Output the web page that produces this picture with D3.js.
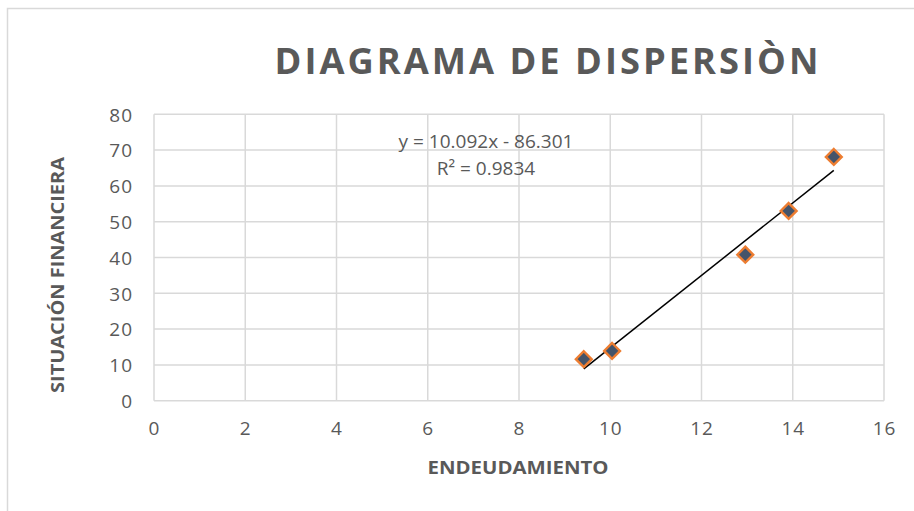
<!DOCTYPE html>
<html>
<head>
<meta charset="utf-8">
<script src="https://cdn.jsdelivr.net/npm/d3@7"></script>
<style>
  html, body { margin: 0; padding: 0; background: #fff; }
  svg { display: block; font-family: "Open Sans", sans-serif; }
</style>
</head>
<body>
<svg id="chart" width="914" height="511"></svg>
<script>
// valores
var endeudamiento = [9.42, 10.04, 12.96, 13.91, 14.9];
var situacion = [11.6, 13.9, 40.8, 53.0, 68.1];
var xTicks = [0, 2, 4, 6, 8, 10, 12, 14, 16];
var yTicks = [0, 10, 20, 30, 40, 50, 60, 70, 80];
var ecuacion = ["y = 10.092x - 86.301", "R² = 0.9834"];

var titulo = "DIAGRAMA DE DISPERSIÒN",
  tituloX = "ENDEUDAMIENTO",
  tituloY = "SITUACIÓN FINANCIERA";

var gris = "#595959",
  rejilla = "#d9d9d9";

var svg = d3.select("#chart");

// borde del area del grafico
svg.append("rect")
  .attr("x", 7.5).attr("y", 8.5)
  .attr("width", 940).attr("height", 540)
  .attr("fill", "#fff")
  .attr("stroke", rejilla).attr("stroke-width", 1.5);

var x = d3.scaleLinear().domain([0, 16]).range([154, 884]);
var y = d3.scaleLinear().domain([0, 80]).range([400.7, 114.3]);

// rejilla
svg.append("g").selectAll("line")
  .data(xTicks).enter().append("line")
  .attr("x1", function(d) { return x(d); })
  .attr("x2", function(d) { return x(d); })
  .attr("y1", y(0)).attr("y2", y(80))
  .attr("stroke", rejilla).attr("stroke-width", 1.5);

svg.append("g").selectAll("line")
  .data(yTicks).enter().append("line")
  .attr("x1", x(0)).attr("x2", x(16))
  .attr("y1", function(d) { return y(d); })
  .attr("y2", function(d) { return y(d); })
  .attr("stroke", rejilla).attr("stroke-width", 1.5);

// ejes con las etiquetas
var ejeX = svg.append("g")
  .attr("transform", "translate(0," + y(0) + ")")
  .call(d3.axisBottom(x).tickValues(xTicks).tickSize(0).tickPadding(21));
var ejeY = svg.append("g")
  .attr("transform", "translate(" + x(0) + ",0)")
  .call(d3.axisLeft(y).tickValues(yTicks).tickSize(0).tickPadding(21));

[ejeX, ejeY].forEach(function(eje) {
  eje.select(".domain").remove();
  eje.selectAll("text")
    .attr("fill", gris)
    .style("font-family", "'Open Sans', sans-serif")
    .style("font-size", "19px")
    .style("letter-spacing", "1px");
});
ejeY.selectAll("text").attr("dy", "0.36em");

// linea de tendencia (minimos cuadrados)
var mx = d3.mean(endeudamiento),
  my = d3.mean(situacion);
var sxy = d3.sum(endeudamiento, function(v, i) { return (v - mx) * (situacion[i] - my); });
var sxx = d3.sum(endeudamiento, function(v) { return (v - mx) * (v - mx); });
var pendiente = sxy / sxx,
  corte = my - pendiente * mx;
var extremos = d3.extent(endeudamiento);

svg.append("line")
  .attr("x1", x(extremos[0])).attr("y1", y(pendiente * extremos[0] + corte))
  .attr("x2", x(extremos[1])).attr("y2", y(pendiente * extremos[1] + corte))
  .attr("stroke", "#000").attr("stroke-width", 1.5);

// puntos
var rombo = d3.symbol().type(d3.symbolDiamond2).size(160);
svg.append("g").selectAll("path")
  .data(endeudamiento).enter().append("path")
  .attr("d", rombo)
  .attr("transform", function(d, i) { return "translate(" + x(d) + "," + y(situacion[i]) + ")"; })
  .attr("fill", "#44546a")
  .attr("stroke", "#ed7d31").attr("stroke-width", 2.4);

// ecuacion
svg.append("g").selectAll("text")
  .data(ecuacion).enter().append("text")
  .attr("x", 486)
  .attr("y", function(d, i) { return 148 + i * 27; })
  .attr("text-anchor", "middle")
  .attr("fill", gris)
  .style("font-size", "19px")
  .text(function(d) { return d; });

// titulo: letras estrechas y espaciadas
var t = svg.append("text")
  .attr("x", 0).attr("y", 0)
  .attr("text-anchor", "middle")
  .attr("fill", gris)
  .style("font-size", "36px").style("font-weight", "bold")
  .style("letter-spacing", "3px")
  .text(titulo);
var ancho = t.node().getComputedTextLength();
t.attr("transform", "translate(548,74) scale(" + (547 / ancho) + ",1)");

svg.append("text")
  .attr("x", 518).attr("y", 474)
  .attr("text-anchor", "middle")
  .attr("fill", gris)
  .attr("textLength", 181).attr("lengthAdjust", "spacingAndGlyphs")
  .style("font-size", "18px").style("font-weight", "bold")
  .text(tituloX);

svg.append("text")
  .attr("transform", "translate(64,275) rotate(-90)")
  .attr("text-anchor", "middle")
  .attr("fill", gris)
  .attr("textLength", 236).attr("lengthAdjust", "spacingAndGlyphs")
  .style("font-size", "18px").style("font-weight", "bold")
  .text(tituloY);
</script>
</body>
</html>
